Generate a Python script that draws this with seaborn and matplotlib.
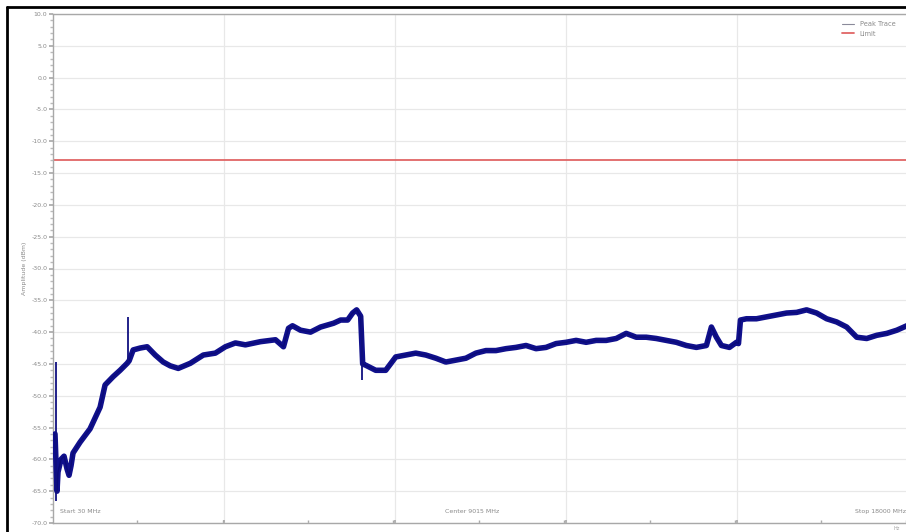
import pandas as pd
import matplotlib.pyplot as plt
import seaborn as sns
from matplotlib.lines import Line2D
from matplotlib.ticker import MultipleLocator

# sweep readout (MHz, dBm)
freq_mhz = [
    72, 114, 135, 199, 262, 325, 367, 409, 451, 599, 809, 1020, 1125,
    1294, 1441, 1589, 1631, 1715, 1863, 2010, 2179, 2347, 2495, 2663,
    2916, 3190, 3443, 3654, 3864, 4075, 4391, 4707, 4875, 4981, 5065, 5234,
    5444, 5655, 5929, 6076, 6224, 6329, 6413, 6498, 6540, 6603, 6814, 7024,
    7235, 7446, 7656, 7867, 8078, 8288, 8499, 8710, 8920, 9131, 9342, 9552,
    9763, 9974, 10184, 10395, 10606, 10816, 11027, 11238, 11448, 11659,
    11870, 12080, 12291, 12502, 12712, 12923, 13134, 13344, 13555, 13766,
    13871, 13976, 14082, 14250, 14398, 14440, 14482, 14608, 14819, 15030,
    15240, 15451, 15662, 15872, 16083, 16294, 16504, 16715, 16926, 17136,
    17347, 17558, 17768, 17979, 18000,
]
peak_dbm = [
    -56.0, -65.0, -62.0, -60.0, -59.5, -61.5, -62.5, -61.0,
    -59.0, -57.3, -55.2, -51.8, -48.3, -47.0, -46.0, -44.9, -44.5,
    -42.8, -42.5, -42.3, -43.6, -44.7, -45.3, -45.7, -44.9, -43.6, -43.3,
    -42.3, -41.7, -42.0, -41.5, -41.2, -42.3, -39.4, -39.0, -39.7, -40.0,
    -39.2, -38.6, -38.1, -38.1, -37.0, -36.5, -37.5, -45.0, -45.2, -46.0,
    -46.0, -43.9, -43.6, -43.3, -43.6, -44.1, -44.7, -44.4, -44.1, -43.3,
    -42.9, -42.9, -42.6, -42.4, -42.1, -42.6, -42.4, -41.8, -41.6, -41.3,
    -41.6, -41.3, -41.3, -41.0, -40.2, -40.8, -40.8, -41.0, -41.3, -41.6,
    -42.1, -42.4, -42.1, -39.2, -40.8, -42.1, -42.4, -41.6, -41.8, -38.1,
    -37.9, -37.9, -37.6, -37.3, -37.0, -36.9, -36.5, -37.0, -37.9, -38.4,
    -39.2, -40.8, -41.0, -40.5, -40.2, -39.7, -39.0, -39.0,
]
# narrow single-bin excursions (freq, low, high)
spike_freq = [93, 1610, 6519]
spike_low = [-66.5, -44.9, -47.6]
spike_high = [-44.7, -37.6, -37.5]
limit_dbm = -13.0
span_mhz = [30, 18000]
marker_labels = ["Start 30 MHz", "Center 9015 MHz", "Stop 18000 MHz"]

trace = pd.DataFrame({"freq": freq_mhz, "amp": peak_dbm})
limit = pd.DataFrame({"freq": span_mhz, "amp": [limit_dbm, limit_dbm]})

sns.set_theme(style="white")
plt.rcParams["font.family"] = ["DejaVu Sans"]

fig = plt.figure(figsize=(9.06, 5.32), dpi=100)
ax = fig.add_axes([53 / 906, 9 / 532, 1 - 53 / 906 + 0.002, 509 / 532])

sns.lineplot(data=trace, x="freq", y="amp", ax=ax, color="#10108c",
             linewidth=4.0, estimator=None, sort=False, zorder=3)
sns.lineplot(data=trace, x="freq", y="amp", ax=ax, color="#0a0a78",
             linewidth=1.0, estimator=None, sort=False, zorder=4)
ax.vlines(spike_freq, spike_low, spike_high, color="#101080",
          linewidth=1.3, zorder=4)
sns.lineplot(data=limit, x="freq", y="amp", ax=ax, color="#e06666",
             linewidth=1.3, estimator=None, zorder=2)

ax.set_xlim(span_mhz[0], span_mhz[1])
ax.set_ylim(-70, 10)
div = (span_mhz[1] - span_mhz[0]) / 5
ax.set_xticks([span_mhz[0] + div * k for k in range(1, 5)])
ax.xaxis.set_minor_locator(MultipleLocator(div / 2))
ax.set_xticklabels([])
ax.yaxis.set_major_locator(MultipleLocator(5))
ax.yaxis.set_minor_locator(MultipleLocator(1))
ax.yaxis.set_major_formatter(lambda v, p: f"{v:.1f}")
ax.tick_params(axis="y", which="major", labelsize=4.5, labelcolor="#8a8a8a",
               length=3, color="#aaaaaa", left=True, pad=1)
ax.tick_params(axis="y", which="minor", length=2, color="#bbbbbb", left=True)
ax.tick_params(axis="x", which="both", length=2, color="#aaaaaa",
               bottom=True, direction="in")
ax.grid(True, which="major", color="#e8e8e8", linewidth=0.9)
for s in ax.spines.values():
    s.set_color("#a8a8a8")
    s.set_linewidth(1.0)

ax.set_xlabel("")
ax.set_ylabel("Amplitude (dBm)", fontsize=4.5, color="#8a8a8a", labelpad=3)

# start / center / stop annotations along the bottom edge
ax.text(0.008, 0.022, marker_labels[0], transform=ax.transAxes,
        fontsize=4.5, color="#8a8a8a", ha="left", va="center")
ax.text(0.49, 0.022, marker_labels[1], transform=ax.transAxes,
        fontsize=4.5, color="#8a8a8a", ha="center", va="center")
ax.text(0.998, 0.022, marker_labels[2], transform=ax.transAxes,
        fontsize=4.5, color="#8a8a8a", ha="right", va="center")
fig.text(0.99, 0.004, "Hz", fontsize=3.5, color="#a0a0a0", ha="center")

handles = [Line2D([], [], color="#8a8a9a", linewidth=0.8),
           Line2D([], [], color="#e06666", linewidth=1.3)]
ax.legend(handles, ["Peak Trace", "Limit"], loc="upper right", frameon=False,
          fontsize=4.8, labelcolor="#8a8a8a", handlelength=1.8,
          bbox_to_anchor=(0.991, 0.995), borderaxespad=0.3)

# black screenshot frame on left/top
fig.add_artist(Line2D([7 / 906, 7 / 906], [0, 1 - 7 / 532], color="black",
                      linewidth=2.0, transform=fig.transFigure))
fig.add_artist(Line2D([7 / 906, 1], [1 - 7 / 532, 1 - 7 / 532], color="black",
                      linewidth=2.0, transform=fig.transFigure))

fig.savefig("out.png", dpi=100)
